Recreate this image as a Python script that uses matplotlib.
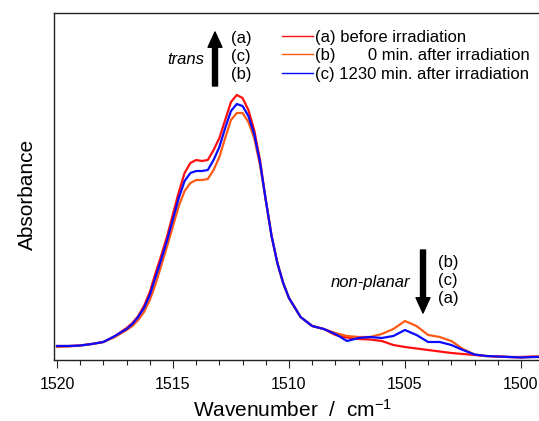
#
#   IR absorbance spectra before / after irradiation
#

import matplotlib
matplotlib.use('Agg')
import matplotlib.pyplot as plt
from matplotlib.ticker import MultipleLocator

plt.rcParams['font.family'] = ['Liberation Sans', 'DejaVu Sans']
plt.rcParams['mathtext.default'] = 'regular'

# wavenumber grid (cm-1)
wavenumber = [1520, 1519.5, 1519, 1518.5, 1518, 1517.5, 1517, 1516.75, 1516.5,
              1516.25, 1516, 1515.75, 1515.5, 1515.25, 1515, 1514.75, 1514.5,
              1514.25, 1514, 1513.75, 1513.5, 1513.25, 1513, 1512.75, 1512.5,
              1512.25, 1512, 1511.75, 1511.5, 1511.25, 1511, 1510.75, 1510.5,
              1510.25, 1510, 1509.5, 1509, 1508.5, 1508, 1507.5, 1507, 1506.5,
              1506, 1505.5, 1505, 1504.5, 1504, 1503.5, 1503, 1502.5, 1502,
              1501.5, 1501, 1500.5, 1500, 1499.5, 1499.25]

# (a) before irradiation
absorb_a = [14, 14, 14.5, 16, 18, 24, 32, 37, 44, 54, 68, 87, 105, 124, 146,
            168, 187, 197, 200, 199, 200, 210, 222, 240, 258, 265, 262, 250,
            230, 200, 160, 124, 97, 77, 62, 43, 34, 31, 25, 22.5, 21, 20.5,
            19, 15, 13, 11.5, 10, 8.5, 7, 6, 5, 4, 3.5, 3, 3, 3.5, 3.5]

# (b) 0 min. after irradiation
absorb_b = [13, 13.5, 14.5, 16, 18, 23, 30, 34, 40, 48, 60, 76, 95, 114, 134,
            154, 169, 177, 180, 180, 181, 190, 203, 222, 240, 247, 247, 238,
            222, 195, 160, 124, 97, 77, 62, 43, 34, 31, 27, 24, 23, 23, 26,
            31, 39, 34, 25, 23, 19, 11, 5.5, 4, 3.5, 3, 2.5, 3, 3]

# (c) 1230 min. after irradiation
absorb_c = [14, 14, 14.5, 16, 18, 24, 31, 36, 43, 52, 65, 83, 101, 120, 141,
            162, 179, 187, 189, 189, 190, 200, 213, 232, 249, 256, 254, 244,
            226, 198, 160, 124, 97, 77, 62, 43, 34, 31, 26, 19, 22, 23, 22,
            24, 30, 25, 18, 18, 15, 10, 5.5, 4, 3.5, 3, 2.5, 3, 3]

labels = ['(a) before irradiation',
          '(b)       0 min. after irradiation',
          '(c) 1230 min. after irradiation']
colors = ['#ff1010', '#ff5a14', '#0a0aff']

fig = plt.figure(figsize=(5.39, 4.21), dpi=100)
ax = fig.add_axes([54 / 539, 61 / 421, 1 - 54 / 539, 347 / 421])

for series, label, color in zip([absorb_a, absorb_b, absorb_c], labels, colors):
    ax.plot(wavenumber, [v / 1000 for v in series], color=color,
            linewidth=1.6, label=label)

ax.set_xlim(1520.13, 1499.22)
ax.set_ylim(0, 0.347)

ax.spines['right'].set_visible(False)
for side in ['left', 'top', 'bottom']:
    ax.spines[side].set_linewidth(1.0)
    ax.spines[side].set_color('#222222')

ax.xaxis.set_major_locator(MultipleLocator(5))
ax.xaxis.set_minor_locator(MultipleLocator(1))
ax.tick_params(axis='x', which='major', length=6, width=0.8, direction='out',
               labelsize=11.5, pad=6, color='#222222')
ax.tick_params(axis='x', which='minor', length=3.6, width=0.8,
               direction='out', color='#222222')
ax.set_yticks([])

fig.text(293 / 539, 1 - 417 / 421, 'Wavenumber  /  cm$^{-1}$', fontsize=15,
         ha='center', va='baseline')
fig.text(27 / 539, 1 - 194 / 421, 'Absorbance', fontsize=15, rotation=90,
         ha='center', va='center')

leg = ax.legend(loc='upper left', bbox_to_anchor=(282 / 539, 1 - 30 / 421),
                bbox_transform=fig.transFigure, frameon=False, fontsize=12,
                handlelength=1.85, handletextpad=0.15, labelspacing=0.2,
                borderpad=0, borderaxespad=0)
for line in leg.get_lines():
    line.set_linewidth(1.0)

# change indicators
arrow_style = dict(arrowstyle='simple,head_length=1.1,head_width=1.0,'
                   'tail_width=0.36', fc='k', ec='k', shrinkA=0, shrinkB=0,
                   mutation_scale=10)

ax.annotate('', xy=(215, 421 - 32), xytext=(215, 421 - 86),
            xycoords='figure pixels', textcoords='figure pixels',
            arrowprops=arrow_style)
ax.annotate('', xy=(423, 421 - 313), xytext=(423, 421 - 250),
            xycoords='figure pixels', textcoords='figure pixels',
            arrowprops=arrow_style)

fig.text(204 / 539, 1 - 59 / 421, 'trans', style='italic', fontsize=12,
         ha='right', va='center')
for txt, ypix in zip(['(a)', '(c)', '(b)'], [38, 57, 75]):
    fig.text(231 / 539, 1 - ypix / 421, txt, fontsize=12, ha='left',
             va='center')

fig.text(410 / 539, 1 - 282 / 421, 'non-planar', style='italic', fontsize=12,
         ha='right', va='center')
for txt, ypix in zip(['(b)', '(c)', '(a)'], [262, 281, 299]):
    fig.text(438 / 539, 1 - ypix / 421, txt, fontsize=12, ha='left',
             va='center')

fig.savefig('out.png', dpi=100)
